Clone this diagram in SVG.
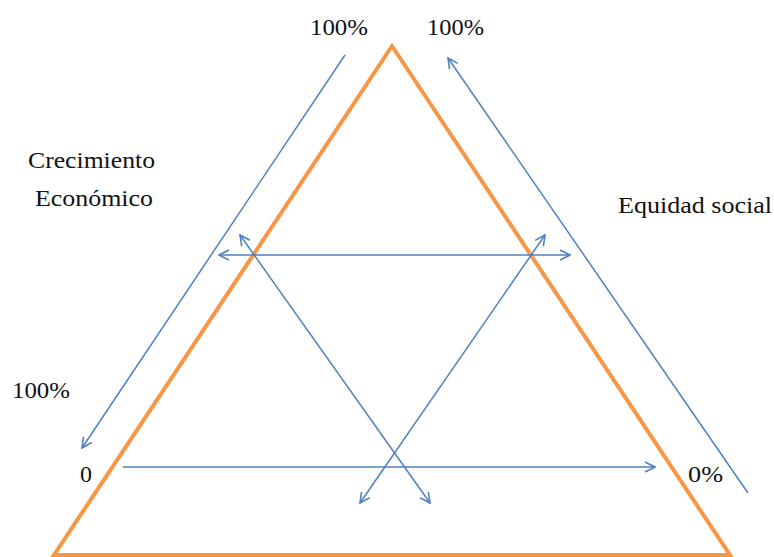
<svg xmlns="http://www.w3.org/2000/svg" width="774" height="557" viewBox="0 0 774 557">
<style>
text{font-family:'Liberation Serif','Times New Roman',serif;font-size:24px;fill:#111}
.c{stroke:#4F81BD;stroke-width:1.5;fill:none}
.tri{stroke:#F79646;stroke-width:4;fill:none;stroke-linejoin:miter}
</style>
<defs>
<marker id="ah" viewBox="0 0 12 12" refX="11" refY="6" markerWidth="12" markerHeight="12" markerUnits="userSpaceOnUse" orient="auto-start-reverse">
<path d="M1,1 L11,6 L1,11" fill="none" stroke="#4F81BD" stroke-width="1.6"/>
</marker>
</defs>
<g id="triangle">
<polygon class="tri" points="392,46 54,555 730,555"/>
</g>
<g id="connectors">
<line class="c" x1="345" y1="55" x2="82" y2="448" marker-end="url(#ah)"/>
<line class="c" x1="748" y1="493" x2="448" y2="58" marker-end="url(#ah)"/>
<line class="c" x1="219" y1="255" x2="570" y2="255" marker-start="url(#ah)" marker-end="url(#ah)"/>
<line class="c" x1="123" y1="467" x2="655" y2="467" marker-end="url(#ah)"/>
<line class="c" x1="240" y1="235" x2="430" y2="503" marker-start="url(#ah)" marker-end="url(#ah)"/>
<line class="c" x1="545" y1="235" x2="360" y2="503" marker-start="url(#ah)" marker-end="url(#ah)"/>
</g>
<g id="labels">
<text x="310" y="35" textLength="58" lengthAdjust="spacingAndGlyphs">100%</text>
<text x="427" y="35" textLength="57" lengthAdjust="spacingAndGlyphs">100%</text>
<text x="28" y="168" textLength="127" lengthAdjust="spacingAndGlyphs">Crecimiento</text>
<text x="35" y="206" textLength="118" lengthAdjust="spacingAndGlyphs">Económico</text>
<text x="618" y="213" textLength="154" lengthAdjust="spacingAndGlyphs">Equidad social</text>
<text x="12" y="398" textLength="58" lengthAdjust="spacingAndGlyphs">100%</text>
<text x="80" y="482">0</text>
<text x="688" y="482" textLength="35" lengthAdjust="spacingAndGlyphs">0%</text>
</g>
</svg>
